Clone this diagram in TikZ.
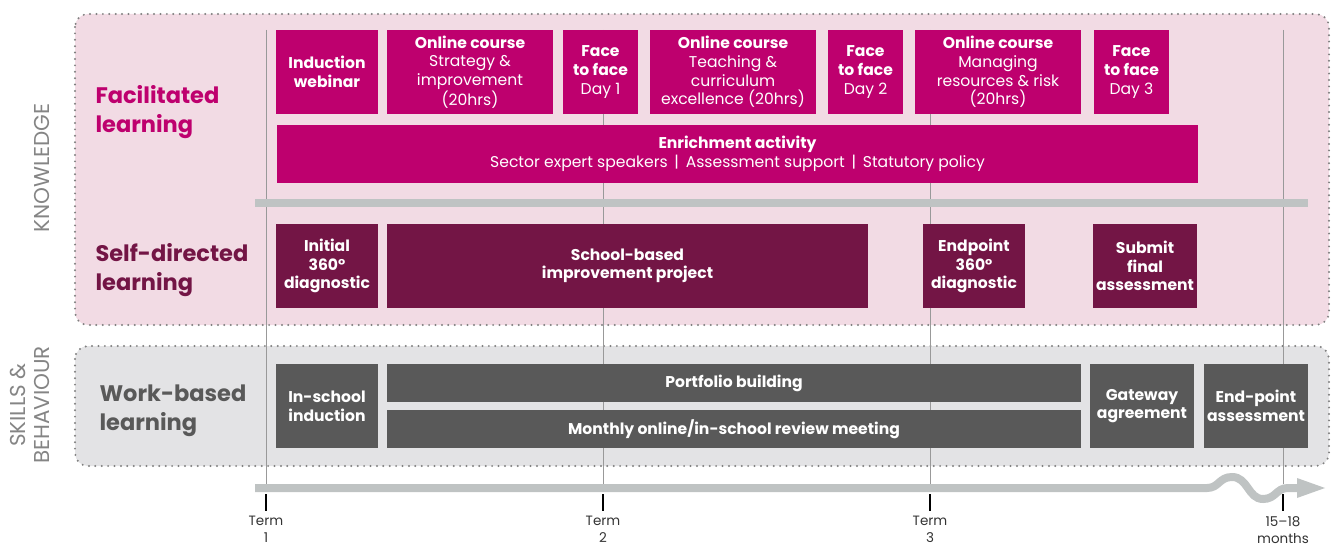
\documentclass[tikz,border=0pt]{standalone}
\usepackage{fontspec}
\setmainfont{Poppins}
\definecolor{mag}{HTML}{BE006E}
\definecolor{maroon}{HTML}{731545}
\definecolor{dgray}{HTML}{595959}
\definecolor{pinkbg}{HTML}{F2DBE4}
\definecolor{graybg}{HTML}{E3E3E5}
\definecolor{bargray}{HTML}{BFC3C3}
\definecolor{vline}{HTML}{999999}
\definecolor{dotc}{HTML}{808080}
\definecolor{sidec}{HTML}{858585}
\newcommand\bx[7]{\node[#6, minimum width={#4pt-#2pt}, minimum height={#5pt-#3pt}] (#1) at ({(#2+#4)/2},{(#3+#5)/2}) {#7};}
\tikzset{
  panel/.style={draw=dotc, line width=2.2pt, dash pattern=on 0pt off 6.4pt, line cap=round, rounded corners=13pt},
  boxbase/.style={inner sep=0pt, align=center, text=white, font=\fontsize{15.6}{18.6}\selectfont},
  magbox/.style={boxbase, fill=mag},
  marbox/.style={boxbase, fill=maroon},
  grybox/.style={boxbase, fill=dgray},
  rowlabel/.style={anchor=west, align=left, font=\fontsize{22.5}{29}\selectfont\bfseries},
  sidelabel/.style={rotate=90, align=center, text=sidec, font=\fontsize{21.5}{24}\selectfont},
  termline/.style={draw=vline, line width=0.9pt},
  tick/.style={draw=black, line width=2pt},
  termlabel/.style={align=center, anchor=north, font=\fontsize{13.5}{17}\selectfont, text=black!80},
}
\begin{document}
\begin{tikzpicture}[x=1pt, y=-1pt]
\useasboundingbox (0,0) rectangle (1333,548);
% panels
\draw[panel, fill=pinkbg] (75,14) rectangle (1329,325);
\draw[panel, fill=graybg] (75,346) rectangle (1329,466);
% term vertical lines
\foreach \n/\x/\ya in {t1/266/30, t2/603/30, t3/930/30, t4/1283/30}{
  \coordinate (\n top) at (\x,\ya);
  \coordinate (\n bot) at (\x,484);
  \draw[termline] (\n top) -- (\n bot);
}
% separator bar
\fill[bargray] (255,199) rectangle (1308,207);
% row labels
\node[rowlabel, text=mag] (fac) at (92,112) {Facilitated\\learning};
\node[rowlabel, text=maroon] (self) at (92,270) {Self-directed\\learning};
\node[rowlabel, text=dgray] (work) at (96,411) {Work-based\\learning};
% side labels
\node[sidelabel] (know) at (42,168) {KNOWLEDGE};
\node[sidelabel] (skills) at (30,405) {SKILLS \&\\BEHAVIOUR};
% facilitated row
\bx{ind}{276}{30}{378}{114}{magbox}{\textbf{Induction}\\\textbf{webinar}}
\bx{oc1}{387}{30}{553}{114}{magbox}{\textbf{Online course}\\Strategy \&\\improvement\\(20hrs)}
\bx{f1}{563}{30}{638}{114}{magbox}{\textbf{Face}\\\textbf{to face}\\Day 1}
\bx{oc2}{650}{30}{816}{114}{magbox}{\textbf{Online course}\\Teaching \&\\curriculum\\excellence (20hrs)}
\bx{f2}{828}{30}{903}{114}{magbox}{\textbf{Face}\\\textbf{to face}\\Day 2}
\bx{oc3}{915}{30}{1081}{114}{magbox}{\textbf{Online course}\\Managing\\resources \& risk\\(20hrs)}
\bx{f3}{1094}{30}{1169}{114}{magbox}{\textbf{Face}\\\textbf{to face}\\Day 3}
\bx{enr}{277}{125}{1198}{183}{magbox}{\textbf{Enrichment activity}\\Sector expert speakers \,|\, Assessment support \,|\, Statutory policy}
% self-directed row
\bx{init}{276}{224}{378}{308}{marbox}{\textbf{Initial}\\\textbf{360°}\\\textbf{diagnostic}}
\bx{sbip}{387}{224}{868}{308}{marbox}{\textbf{School-based}\\\textbf{improvement project}}
\bx{endp}{923}{224}{1025}{308}{marbox}{\textbf{Endpoint}\\\textbf{360°}\\\textbf{diagnostic}}
\bx{subm}{1093}{224}{1197}{308}{marbox}{\textbf{Submit}\\\textbf{final}\\\textbf{assessment}}
% work-based row
\bx{insch}{276}{364}{378}{448}{grybox}{\textbf{In-school}\\\textbf{induction}}
\bx{port}{387}{364}{1081}{402}{grybox}{\textbf{Portfolio building}}
\bx{month}{387}{410}{1081}{448}{grybox}{\textbf{Monthly online/in-school review meeting}}
\bx{gate}{1090}{364}{1194}{448}{grybox}{\textbf{Gateway}\\\textbf{agreement}}
\bx{epa}{1204}{364}{1308}{448}{grybox}{\textbf{End-point}\\\textbf{assessment}}
% timeline
\coordinate (tlstart) at (255,488);
\coordinate (tlhead) at (1298,488);
\draw[bargray, line width=8pt] (tlstart) -- (1207,488)
  .. controls (1219,488) and (1219,477) .. (1232,477)
  .. controls (1248,477) and (1248,499) .. (1263,499)
  .. controls (1276,499) and (1276,488) .. (1288,488) -- (tlhead);
\fill[bargray] (1297,478) -- (1325,488) -- (1297,498) -- cycle;
% ticks and labels
\foreach \n/\x/\lab in {t1/266/{Term\\1}, t2/603/{Term\\2}, t3/930/{Term\\3}, t4/1283/{15–18\\months}}{
  \draw[tick] (\x,494) -- (\x,511);
  \node[termlabel] (\n lab) at (\x,513) {\lab};
}
\end{tikzpicture}
\end{document}
